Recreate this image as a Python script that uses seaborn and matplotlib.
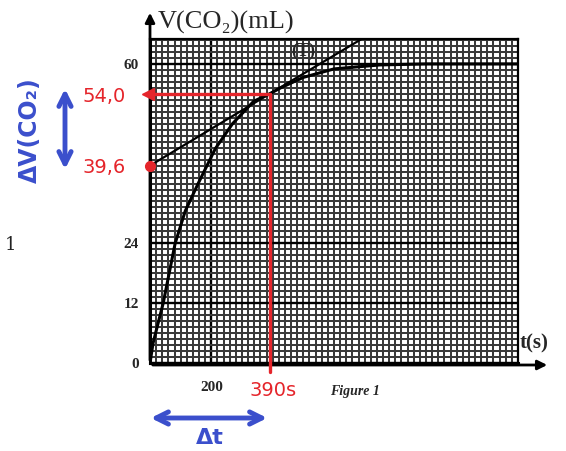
import numpy as np
import pandas as pd
import matplotlib
matplotlib.use("Agg")
import matplotlib.pyplot as plt
import seaborn as sns
from matplotlib.ticker import MultipleLocator

# ---- data ----
t_curve = [0, 10, 43, 82, 115, 157, 213, 269, 338, 390, 426, 500, 600, 750, 900, 1050, 1200]
v_curve = [0, 4, 12, 24, 30.5, 36, 43, 48, 52.5, 54, 55.2, 57.3, 59, 59.8, 60, 60, 60]
t_tangent = [0, 390, 690]
v_tangent = [39.6, 54.0, 65.0]
t_point = 390
v_point = 54.0
v_intercept = 39.6
ytick_vals = [0, 12, 24, 60]
ytick_labels = ["0", "12", "24", "60"]
xtick_vals = [200]
xtick_labels = ["200"]

curve = pd.DataFrame({"t": t_curve, "V": v_curve})
tangent = pd.DataFrame({"t": t_tangent, "V": v_tangent})

sns.set_style("white")
plt.rcParams["font.family"] = ["DejaVu Sans"]

W, H = 566, 451
fig = plt.figure(figsize=(W / 100, H / 100), dpi=100)
ax = fig.add_axes([150 / W, 1 - 363 / H, 368 / W, (363 - 39) / H])
ax.set_xlim(0, 1200)
ax.set_ylim(0, 65)

# grid paper texture
ax.xaxis.set_minor_locator(MultipleLocator(20))
ax.yaxis.set_minor_locator(MultipleLocator(1.2))
ax.xaxis.set_major_locator(MultipleLocator(200))
ax.yaxis.set_major_locator(MultipleLocator(12))
ax.grid(which="minor", color="#3a3a3a", lw=1.45, zorder=0)
ax.grid(which="major", color="black", lw=1.7, zorder=1)
ax.set_axisbelow(True)
for s in ax.spines.values():
    s.set_color("black")
    s.set_linewidth(1.6)
ax.spines["bottom"].set_linewidth(2.2)
ax.spines["left"].set_linewidth(2.2)

ax.set_xticks(xtick_vals)
ax.set_xticklabels(xtick_labels)
ax.set_yticks(ytick_vals)
ax.set_yticklabels(ytick_labels)
serif = ["Liberation Serif", "DejaVu Serif"]
ax.tick_params(axis="both", which="major", length=5, width=1.4, color="black",
               labelsize=11, pad=3)
ax.tick_params(axis="x", which="major", pad=8)
ax.tick_params(which="minor", length=0)
for lab in ax.get_xticklabels() + ax.get_yticklabels():
    lab.set_fontfamily(serif)
    lab.set_fontweight("bold")

# curve and tangent
sns.lineplot(data=curve, x="t", y="V", ax=ax, color="black", lw=2.2, zorder=4)
sns.lineplot(data=tangent, x="t", y="V", ax=ax, color="black", lw=1.6, zorder=4)
ax.set_xlabel("")
ax.set_ylabel("")
ax.text(500, 62.6, "(T)", fontfamily=serif, fontweight="bold", fontsize=13,
        ha="center", va="center", zorder=5)

# red construction lines
red = "#e5252b"
ax.plot([0, t_point], [v_point, v_point], color=red, lw=2.4, zorder=6, clip_on=False)
ax.plot([t_point, t_point], [v_point, -1.8], color=red, lw=2.4, zorder=6, clip_on=False)
ax.plot([-8], [v_point], marker="<", color=red, ms=8, zorder=7, clip_on=False)
ax.plot([0], [v_intercept], marker="o", color=red, ms=7, zorder=7, clip_on=False)

# axis arrows
ax.annotate("", xy=(150, H - 10), xytext=(150, H - 363), xycoords="figure pixels",
            arrowprops=dict(arrowstyle="-|>", color="black", lw=2.0, mutation_scale=14))
ax.annotate("", xy=(550, H - 365), xytext=(150, H - 365), xycoords="figure pixels",
            arrowprops=dict(arrowstyle="-|>", color="black", lw=2.0, mutation_scale=14))

def fig_text(x, y, s, **kw):
    fig.text(x / W, 1 - y / H, s, **kw)

fig_text(158, 22, "V(CO₂)(mL)", fontfamily=serif, fontsize=19, va="center", ha="left")
fig_text(520, 343, "t(s)", fontfamily=serif, fontsize=15, fontweight="bold", va="center", ha="left")
fig_text(330, 392, "Figure 1", fontfamily=serif, fontsize=10, fontweight="bold",
         fontstyle="italic", va="center", ha="left")
fig_text(5, 245, "1", fontfamily=["DejaVu Serif"], fontsize=13, va="center", ha="left",
         color="#222222")

# red labels
fig_text(82, 97, "54,0", color=red, fontsize=14, va="center", ha="left")
fig_text(82, 167, "39,6", color=red, fontsize=14, va="center", ha="left")
fig_text(250, 390, "390s", color=red, fontsize=14, va="center", ha="left")

# blue annotations
blue = "#3b4fcc"
ax.annotate("", xy=(65, H - 86), xytext=(65, H - 172), xycoords="figure pixels",
            arrowprops=dict(arrowstyle="<->", color=blue, lw=3.5, mutation_scale=22))
ax.annotate("", xy=(148, H - 418), xytext=(270, H - 418), xycoords="figure pixels",
            arrowprops=dict(arrowstyle="<->", color=blue, lw=3.5, mutation_scale=22))
fig_text(30, 130, "ΔV(CO₂)", color=blue, fontsize=17, fontweight="bold", rotation=90,
         va="center", ha="center")
fig_text(210, 438, "Δt", color=blue, fontsize=16, fontweight="bold", va="center", ha="center")

fig.savefig("out.png", dpi=100)
